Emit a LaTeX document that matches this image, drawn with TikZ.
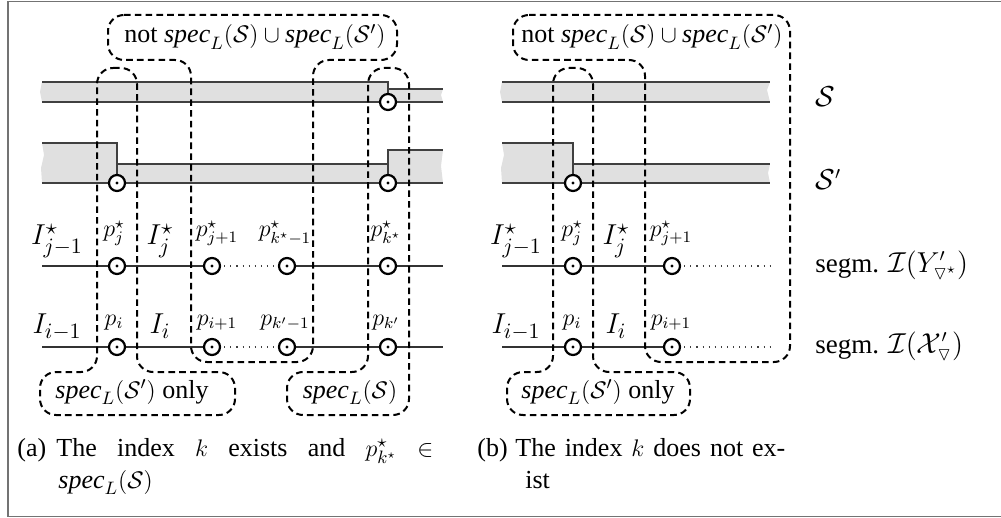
\documentclass[tikz,border=0pt]{standalone}
\usepackage{amssymb}
\usepackage{fontspec}
\setmainfont{Liberation Serif}
\newcommand{\specL}{\textit{spec}_L}
\begin{document}
\begin{tikzpicture}[x=0.5pt,y=-0.5pt,
  frame/.style={draw=black!55, line width=0.8pt},
  bandfill/.style={fill=black!12},
  bline/.style={draw=black!75, line width=0.6pt},
  rline/.style={draw=black!80, line width=0.55pt},
  dotl/.style={draw=black!75, line width=0.55pt, dash pattern=on 0.55pt off 2.5pt},
  region/.style={draw=black, line width=1pt, dash pattern=on 3.3pt off 2.1pt, rounded corners=8pt},
  pt/.style={circle, draw=black, line width=1.1pt, fill=white, minimum size=8pt, inner sep=0pt,
    path picture={\fill[black] (path picture bounding box.center) circle (0.85pt);}},
  Ilab/.style={anchor=base, inner sep=0pt, font=\fontsize{15}{18}\selectfont},
  plab/.style={anchor=base, inner sep=0pt, font=\fontsize{12}{14}\selectfont},
  btxt/.style={anchor=base, inner sep=0pt, font=\fontsize{13}{15}\selectfont},
  rlab/.style={anchor=base west, inner sep=0pt, font=\fontsize{13.5}{16}\selectfont},
  captxt/.style={anchor=base west, inner sep=0pt, font=\fontsize{13}{15}\selectfont}
]
\useasboundingbox (0,0) rectangle (1001,518);
\draw[frame] (1010,1.5) -- (8,1.5) -- (8,516.5) -- (1010,516.5);

% ---------------- panel (a) bands ----------------
\fill[bandfill] (42,82) -- (388,82) -- (388,89) -- (443,89) -- (441,95) -- (443,102) -- (42,102) -- (40,92) -- cycle;
\draw[bline] (42,82) -- (388,82) -- (388,102);
\draw[bline] (388,89) -- (443,89);
\draw[bline] (42,102) -- (443,102);

\fill[bandfill] (42,143) -- (117,143) -- (117,164) -- (388,164) -- (388,150) -- (443,150) -- (441,166) -- (443,183) -- (42,183) -- (41,168) -- (44,155) -- cycle;
\draw[bline] (42,143) -- (117,143) -- (117,183);
\draw[bline] (117,164) -- (388,164);
\draw[bline] (388,183) -- (388,150) -- (443,150);
\draw[bline] (42,183) -- (443,183);

% ---------------- panel (b) bands ----------------
\fill[bandfill] (502,82) -- (770,82) -- (767,90) -- (770,102) -- (502,102) -- (500,92) -- cycle;
\draw[bline] (502,82) -- (770,82);
\draw[bline] (502,102) -- (770,102);

\fill[bandfill] (502,143) -- (573,143) -- (573,164) -- (770,164) -- (768,173) -- (770,183) -- (502,183) -- (501,168) -- (504,155) -- cycle;
\draw[bline] (502,143) -- (573,143) -- (573,183);
\draw[bline] (573,164) -- (770,164);
\draw[bline] (502,183) -- (770,183);

% ---------------- rows ----------------
\coordinate (YaL) at (42,266);  \coordinate (YaR) at (443,266);
\coordinate (XaL) at (42,347);  \coordinate (XaR) at (443,347);
\coordinate (ya1) at (117,266); \coordinate (ya2) at (212,266); \coordinate (ya3) at (287,266); \coordinate (ya4) at (388,266);
\coordinate (xa1) at (117,347); \coordinate (xa2) at (212,347); \coordinate (xa3) at (287,347); \coordinate (xa4) at (388,347);
\draw[rline] (YaL) -- (ya2); \draw[dotl] (ya2) -- (ya3); \draw[rline] (ya3) -- (YaR);
\draw[rline] (XaL) -- (xa2); \draw[dotl] (xa2) -- (xa3); \draw[rline] (xa3) -- (XaR);

\coordinate (YbL) at (502,266); \coordinate (YbR) at (770,266);
\coordinate (XbL) at (502,347); \coordinate (XbR) at (770,347);
\coordinate (yb1) at (573,266); \coordinate (yb2) at (672,266);
\coordinate (xb1) at (573,347); \coordinate (xb2) at (672,347);
\draw[rline] (YbL) -- (yb2); \draw[dotl] (yb2) -- (YbR);
\draw[rline] (XbL) -- (xb2); \draw[dotl] (xb2) -- (XbR);

% circles
\node[pt] (cSa) at (388,102) {};
\node[pt] (cPa1) at (117,183) {};
\node[pt] (cPa2) at (388,183) {};
\node[pt] (cPb1) at (573,183) {};
\foreach \c in {ya1,ya2,ya3,ya4,xa1,xa2,xa3,xa4,yb1,yb2,xb1,xb2}
  \node[pt] (n\c) at (\c) {};

% ---------------- labels (a) ----------------
\node[Ilab] (la1) at (57,245) {$I^{\star}_{j-1}$};
\node[plab] (la2) at (114,237) {$p^{\star}_{j}$};
\node[Ilab] (la3) at (160,245) {$I^{\star}_{j}$};
\node[plab] (la4) at (217,237) {$p^{\star}_{j+1}$};
\node[plab] (la5) at (285,237) {$p^{\star}_{k^\star-1}$};
\node[plab] (la6) at (386,237) {$p^{\star}_{k^\star}$};
\node[Ilab] (lb1) at (57,334) {$I_{i-1}$};
\node[plab] (lb2) at (114,325) {$p_{i}$};
\node[Ilab] (lb3) at (160,334) {$I_{i}$};
\node[plab] (lb4) at (217,325) {$p_{i+1}$};
\node[plab] (lb5) at (285,325) {$p_{k'-1}$};
\node[plab] (lb6) at (386,325) {$p_{k'}$};

% ---------------- labels (b) ----------------
\node[Ilab] (lc1) at (516,245) {$I^{\star}_{j-1}$};
\node[plab] (lc2) at (572,237) {$p^{\star}_{j}$};
\node[Ilab] (lc3) at (616,245) {$I^{\star}_{j}$};
\node[plab] (lc4) at (671,237) {$p^{\star}_{j+1}$};
\node[Ilab] (ld1) at (516,334) {$I_{i-1}$};
\node[plab] (ld2) at (572,325) {$p_{i}$};
\node[Ilab] (ld3) at (616,334) {$I_{i}$};
\node[plab] (ld4) at (671,325) {$p_{i+1}$};

% right labels
\node[rlab] (rS)  at (815,107) {$\mathcal{S}$};
\node[rlab] (rS2) at (815,190) {$\mathcal{S}'$};
\node[rlab] (rY)  at (815,272) {segm. $\mathcal{I}(Y'_{\triangledown^\star})$};
\node[rlab] (rX)  at (815,353) {segm. $\mathcal{I}(\mathcal{X}'_{\triangledown})$};

% ---------------- dashed regions ----------------
\draw[region] (108,15) -- (397,15) -- (397,60) -- (313,60) -- (313,362) -- (191,362) -- (191,60) -- (108,60) -- cycle;
\draw[region] (97,68) -- (137,68) -- (137,372) -- (235,372) -- (235,415) -- (40,415) -- (40,372) -- (97,372) -- cycle;
\draw[region] (368,68) -- (409,68) -- (409,415) -- (287,415) -- (287,372) -- (368,372) -- cycle;
\draw[region] (513,15) -- (790,15) -- (790,362) -- (645,362) -- (645,60) -- (513,60) -- cycle;
\draw[region] (553,68) -- (593,68) -- (593,372) -- (690,372) -- (690,415) -- (507,415) -- (507,372) -- (553,372) -- cycle;

\node[btxt] (ta) at (255,43) {not $\specL(\mathcal{S})\cup\specL(\mathcal{S}')$};
\node[btxt] (tb) at (652,43) {not $\specL(\mathcal{S})\cup\specL(\mathcal{S}')$};
\node[btxt] (oa) at (132,398) {$\specL(\mathcal{S}')$ only};
\node[btxt] (ob) at (598,398) {$\specL(\mathcal{S}')$ only};
\node[btxt] (sa) at (350,398) {$\specL(\mathcal{S})$};

% ---------------- captions ----------------
\node[captxt] (ca0) at (17,456) {(a)};
\node[captxt] (ca1) at (56,456) {\makebox[188.5pt][s]{The index $k$ exists and $p^{\star}_{k^\star}$ $\in$}};
\node[captxt] (ca2) at (58,488) {$\specL(\mathcal{S})$};
\node[captxt] (cb0) at (477,456) {(b)};
\node[captxt] (cb1) at (515,456) {\makebox[135pt][s]{The index $k$ does not ex-}};
\node[captxt] (cb2) at (525,488) {ist};
\end{tikzpicture}
\end{document}
